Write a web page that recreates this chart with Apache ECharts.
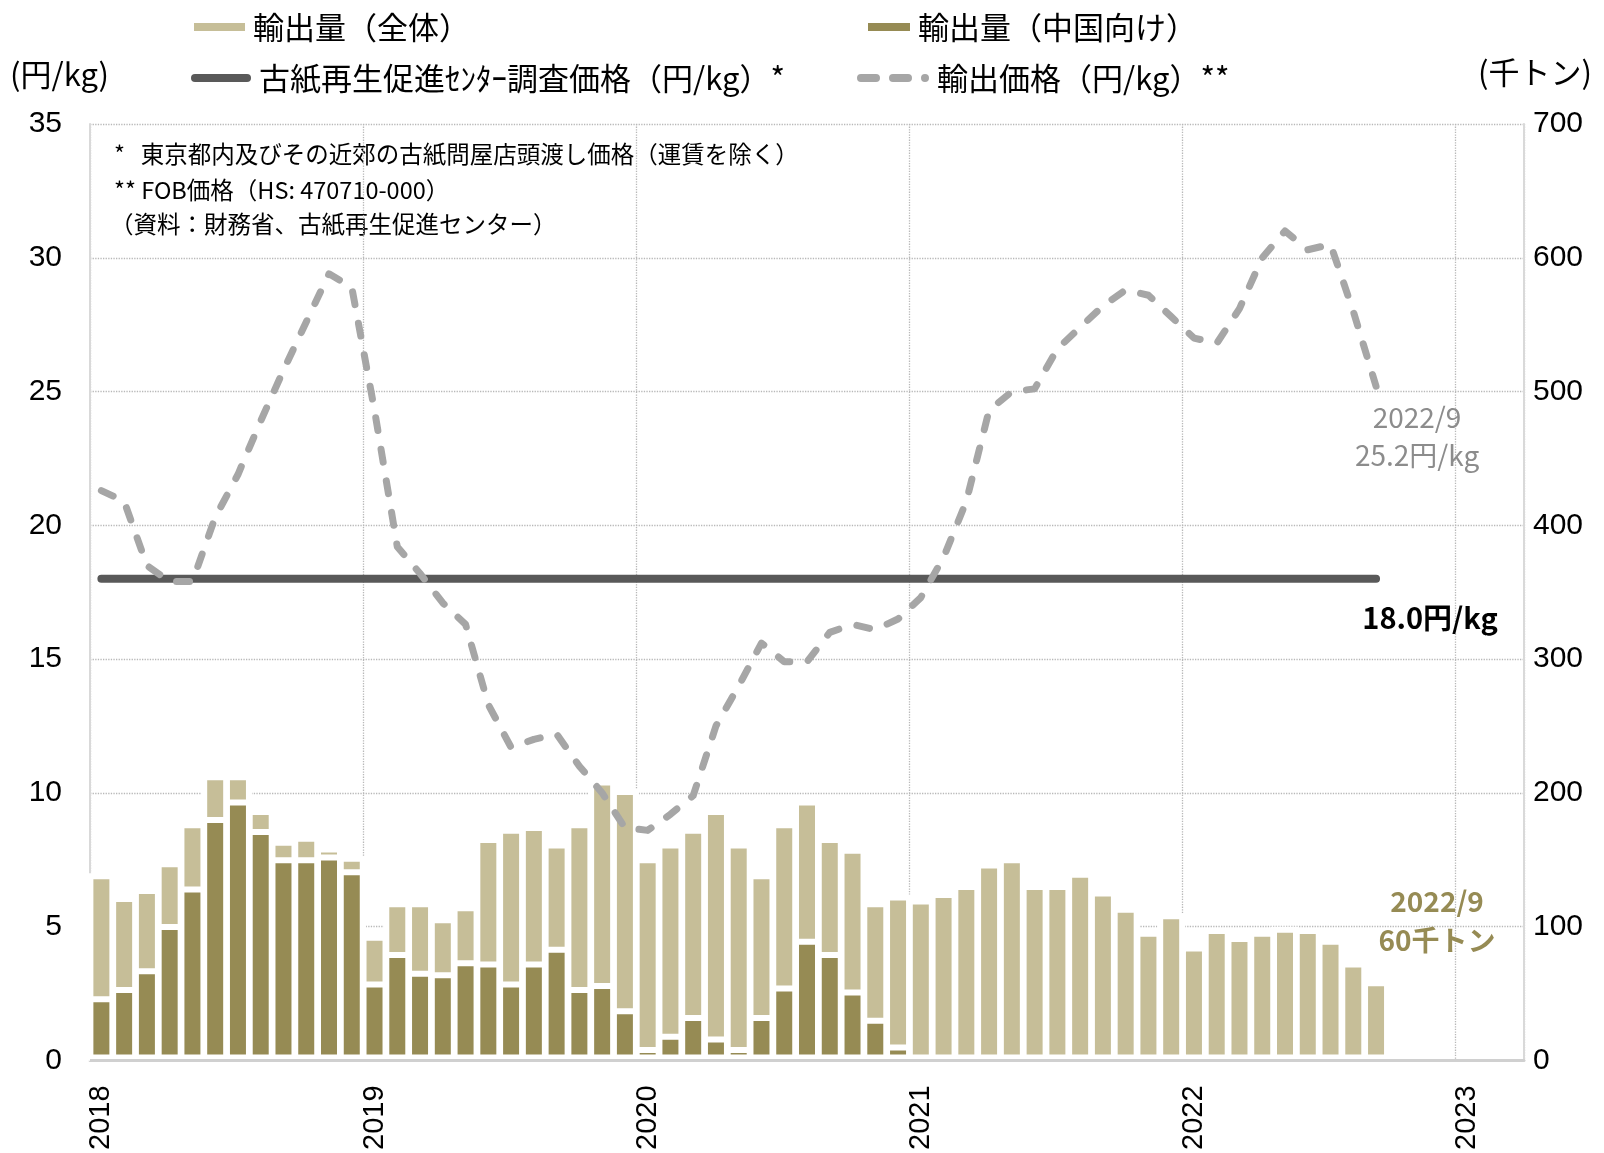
<!DOCTYPE html>
<html><head><meta charset="utf-8">
<script src="https://cdn.jsdelivr.net/npm/echarts@6/dist/echarts.min.js"></script>
<style>html,body{margin:0;padding:0;background:#fff}#c{width:1604px;height:1153px}</style>
</head><body><div id="c"></div>
<script>
// ---- data ----
const categories = [
  '2018/1','2018/2','2018/3','2018/4','2018/5','2018/6','2018/7','2018/8','2018/9','2018/10','2018/11','2018/12',
  '2019/1','2019/2','2019/3','2019/4','2019/5','2019/6','2019/7','2019/8','2019/9','2019/10','2019/11','2019/12',
  '2020/1','2020/2','2020/3','2020/4','2020/5','2020/6','2020/7','2020/8','2020/9','2020/10','2020/11','2020/12',
  '2021/1','2021/2','2021/3','2021/4','2021/5','2021/6','2021/7','2021/8','2021/9','2021/10','2021/11','2021/12',
  '2022/1','2022/2','2022/3','2022/4','2022/5','2022/6','2022/7','2022/8','2022/9','2022/10','2022/11','2022/12',
  '2023/1','2023/2','2023/3'
];
// 輸出量（全体） 千トン
const totalExports = [140,123,129,149,178,214,214,188,165,168,160,153,
  94,119,119,107,116,167,174,176,163,178,210,203,
  152,163,174,188,163,140,178,195,167,159,119,124,
  121,126,132,148,152,132,132,141,127,115,97,110,
  86,99,93,97,100,99,91,74,60];
// 輸出量（中国向け） 千トン
const chinaExports = [48,55,69,102,130,182,195,173,152,152,154,143,
  59,81,67,66,75,74,59,74,85,55,58,39,
  10,20,34,18,10,34,56,91,81,53,32,12];
// 古紙再生促進センター調査価格 円/kg
const centerPrice = [18.0,18.0,18.0,18.0,18.0,18.0,18.0,18.0,18.0,18.0,18.0,18.0,
  18.0,18.0,18.0,18.0,18.0,18.0,18.0,18.0,18.0,18.0,18.0,18.0,
  18.0,18.0,18.0,18.0,18.0,18.0,18.0,18.0,18.0,18.0,18.0,18.0,
  18.0,18.0,18.0,18.0,18.0,18.0,18.0,18.0,18.0,18.0,18.0,18.0,
  18.0,18.0,18.0,18.0,18.0,18.0,18.0,18.0,18.0];
// 輸出価格 円/kg
const exportPrice = [21.3,20.9,18.5,17.9,17.9,20.3,21.9,23.9,25.8,27.6,29.4,28.9,
  24.3,19.2,18.2,17.1,16.3,13.3,11.7,12.0,12.2,11.0,10.0,8.7,
  8.6,9.2,9.9,12.5,14.0,15.6,14.9,14.9,16.0,16.3,16.1,16.5,
  17.3,18.8,20.9,24.3,25.0,25.1,26.6,27.4,28.2,28.8,28.6,27.8,
  27.0,26.8,28.1,30.0,31.0,30.3,30.5,28.0,25.2];
const leftTicks = [0,5,10,15,20,25,30,35];
const rightTicks = [0,100,200,300,400,500,600,700];
const notes = [
  '*   東京都内及びその近郊の古紙問屋店頭渡し価格（運賃を除く）',
  '** FOB価格（HS: 470710-000）',
  '（資料：財務省、古紙再生促進センター）'
];
const names = ['輸出量（全体）','輸出量（中国向け）','古紙再生促進ｾﾝﾀｰ調査価格（円/kg）*','輸出価格（円/kg）**'];
const axisNames = ['(円/kg)', '(千トン)'];

// ---- styles ----
const JP = '"Noto Sans CJK JP", "Noto Sans", sans-serif';
const NUM = '"Liberation Sans", Arial, sans-serif';
const LIGHT = '#c6be98', DARK = '#968b54', SOLID = '#595959', DASH = '#a6a6a6';
const last = exportPrice.length - 1;
const lastBar = totalExports.length - 1;

const chart = echarts.init(document.getElementById('c'), null, {renderer: 'canvas'});
const legendText = {fontFamily: JP, fontSize: 31, color: '#000', lineHeight: 36, padding: [0,0,0,3]};
const pill = 'path://M4,0 H56 A4,4 0 0 1 56,8 H4 A4,4 0 0 1 4,0 Z';
const dashIcon = 'path://M4,0 H19 A4,4 0 0 1 19,8 H4 A4,4 0 0 1 4,0 Z M36,0 H51 A4,4 0 0 1 51,8 H36 A4,4 0 0 1 36,0 Z M68,0 A4,4 0 0 1 68,8 A4,4 0 0 1 68,0 Z';

const option = {
  animation: false,
  backgroundColor: '#fff',
  grid: {left: 90, right: 80, top: 124, bottom: 92, containLabel: false},
  legend: [
    {data: [names[0]], left: 189, top: 4, icon: 'rect', itemWidth: 51, itemHeight: 8, textStyle: legendText, itemStyle: {borderWidth: 0}},
    {data: [names[1]], left: 863, top: 4, icon: 'rect', itemWidth: 42, itemHeight: 8, textStyle: legendText, itemStyle: {borderWidth: 0}},
    {data: [names[2]], left: 186, top: 55, icon: pill, itemWidth: 60, itemHeight: 8, textStyle: legendText, itemStyle: {color: SOLID, borderWidth: 0}},
    {data: [names[3]], left: 852, top: 55, icon: dashIcon, itemWidth: 72, itemHeight: 8, textStyle: legendText, itemStyle: {color: DASH, borderWidth: 0}}
  ],
  xAxis: {
    type: 'category', data: categories, boundaryGap: true,
    axisLine: {show: true, lineStyle: {color: '#d0d0d0', width: 3}},
    axisTick: {show: false},
    axisLabel: {
      interval: (idx) => idx % 12 === 0,
      formatter: (v) => v.split('/')[0],
      rotate: 90, margin: 25,
      fontFamily: NUM, fontSize: 29, color: '#000'
    },
    splitLine: {show: true, interval: (idx) => idx % 12 === 0, lineStyle: {color: '#b8b8b8', type: 'dotted', width: 1.3}}
  },
  yAxis: [
    {type: 'value', min: leftTicks[0], max: leftTicks[leftTicks.length-1], interval: leftTicks[1]-leftTicks[0],
     axisLine: {show: true, lineStyle: {color: '#d9d9d9', width: 2}}, axisTick: {show: false},
     axisLabel: {margin: 28, fontFamily: NUM, fontSize: 30, color: '#000'},
     splitLine: {show: true, lineStyle: {color: '#b8b8b8', type: 'dotted', width: 1.3}}},
    {type: 'value', min: rightTicks[0], max: rightTicks[rightTicks.length-1], interval: rightTicks[1]-rightTicks[0],
     axisLine: {show: true, lineStyle: {color: '#d9d9d9', width: 2}}, axisTick: {show: false},
     axisLabel: {margin: 9, fontFamily: NUM, fontSize: 30, color: '#000'},
     splitLine: {show: false}}
  ],
  series: [
    {name: names[0], type: 'bar', yAxisIndex: 1, data: totalExports, barWidth: 28, barGap: '-100%',
     itemStyle: {color: LIGHT, borderColor: '#fff', borderWidth: 6},
     markPoint: {symbol: 'circle', symbolSize: 0, silent: true,
       data: [{coord: [categories[lastBar], totalExports[lastBar]],
         label: {show: true, position: 'inside', offset: [61, -59],
           formatter: categories[lastBar] + '\n' + totalExports[lastBar] + '千トン',
           color: DARK, fontFamily: JP, fontWeight: 'bold', fontSize: 28, lineHeight: 39, align: 'center'}}]}},
    {name: names[1], type: 'bar', yAxisIndex: 1, data: chinaExports, barWidth: 28, barGap: '-100%',
     itemStyle: {color: DARK, borderColor: '#fff', borderWidth: 6},
     markLine: {silent: true, symbol: 'none', label: {show: false},
       lineStyle: {color: '#d0d0d0', width: 3, type: 'solid'}, data: [{yAxis: rightTicks[0]}]}},
    {name: names[2], type: 'line', yAxisIndex: 0, data: centerPrice, symbol: 'none', showSymbol: false,
     lineStyle: {color: SOLID, width: 8, cap: 'round'}, itemStyle: {color: SOLID}, z: 3,
     markPoint: {symbol: 'circle', symbolSize: 0, silent: true,
       data: [{coord: [categories[last], centerPrice[last]],
         label: {show: true, position: 'inside', offset: [54, 39],
           formatter: centerPrice[last].toFixed(1) + '円/kg',
           color: '#000', fontFamily: JP, fontWeight: 'bold', fontSize: 29, align: 'center'}}]}},
    {name: names[3], type: 'line', yAxisIndex: 0, data: exportPrice, symbol: 'none', showSymbol: false,
     lineStyle: {color: DASH, width: 7, type: [13, 19], cap: 'round', join: 'round'}, itemStyle: {color: DASH}, z: 4,
     markPoint: {symbol: 'circle', symbolSize: 0, silent: true,
       data: [{coord: [categories[last], exportPrice[last]],
         label: {show: true, position: 'inside', offset: [41, 50],
           formatter: categories[last] + '\n' + exportPrice[last] + '円/kg',
           color: '#8c8c8c', fontFamily: JP, fontSize: 28, lineHeight: 38, align: 'center'}}]}}
  ],
  graphic: [
    {type: 'text', x: 10, y: 74, style: {text: axisNames[0], font: '31px ' + JP, fill: '#000', verticalAlign: 'middle'}},
    {type: 'text', x: 1478, y: 72, style: {text: axisNames[1], font: '31px ' + JP, fill: '#000', verticalAlign: 'middle'}},
    {type: 'text', x: 114, y: 154, style: {text: notes[0], font: '23.5px ' + JP, fill: '#000', verticalAlign: 'middle'}},
    {type: 'text', x: 114, y: 190, style: {text: notes[1], font: '23.5px ' + JP, fill: '#000', verticalAlign: 'middle'}},
    {type: 'text', x: 110, y: 224, style: {text: notes[2], font: '23.5px ' + JP, fill: '#000', verticalAlign: 'middle'}}
  ]
};
chart.setOption(option);
</script></body></html>
